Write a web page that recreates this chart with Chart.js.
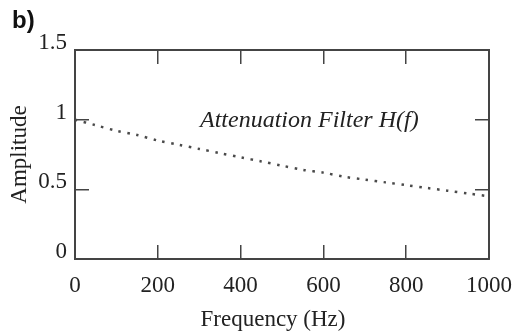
<!DOCTYPE html>
<html>
<head>
<meta charset="utf-8">
<script src="https://cdn.jsdelivr.net/npm/chart.js@4"></script>
<style>
  html, body { margin: 0; padding: 0; background: #fff; }
  #wrap { width: 516px; height: 332px; }
</style>
</head>
<body>
<div id="wrap"><canvas id="filter" width="516" height="332"></canvas></div>
<script>
// frequency (Hz) and amplitude
var freqs = [0, 50, 100, 150, 200, 250, 300, 350, 400, 450, 500, 550, 600, 650, 700, 750, 800, 850, 900, 950, 1000];
var amps = [1.00, 0.96, 0.92, 0.89, 0.85, 0.82, 0.79, 0.76, 0.73, 0.70, 0.67, 0.64, 0.62, 0.59, 0.57, 0.55, 0.53, 0.51, 0.49, 0.47, 0.45];
var xTicks = [0, 200, 400, 600, 800, 1000];
var yTicks = [0, 0.5, 1, 1.5];
var panelLabel = 'b)';
var curveLabel = 'Attenuation Filter H(f)';
var xTitle = 'Frequency (Hz)';

var serif = "'Liberation Serif', 'Times New Roman', serif";
var axisColor = '#444';
var textColor = '#222';

var points = freqs.map(function (f, i) { return { x: f, y: amps[i] }; });

// text that sits on the canvas, not on an axis
var labelsPlugin = {
    id: 'labels',
    afterDraw: function (chart) {
        var ctx = chart.ctx;
        ctx.save();
        ctx.fillStyle = '#111';
        ctx.font = "bold 24px 'Liberation Sans', Arial, sans-serif";
        ctx.textBaseline = 'alphabetic';
        ctx.fillText(panelLabel, 12, 28);

        ctx.fillStyle = textColor;
        ctx.font = "italic 24px " + serif;
        ctx.fillText(curveLabel, 200, 127);

        // x title sits a bit left of the plot centre in the original
        ctx.font = "23px " + serif;
        ctx.textAlign = 'center';
        ctx.textBaseline = 'middle';
        ctx.fillText(xTitle, 273, 320);
        ctx.restore();
    }
};

function axis(pos, isX, showLabels, size) {
    return {
        type: 'linear',
        position: pos,
        min: isX ? xTicks[0] : yTicks[0],
        max: isX ? xTicks[xTicks.length - 1] : yTicks[yTicks.length - 1],
        afterBuildTicks: function (scale) {
            scale.ticks = (isX ? xTicks : yTicks).map(function (v) { return { value: v }; });
        },
        afterFit: function (scale) {
            if (isX) scale.height = size; else scale.width = size;
            // labels may hang over the edges, keep the plot box fixed
            scale.paddingLeft = scale.paddingRight = 0;
            scale.paddingTop = scale.paddingBottom = 0;
        },
        border: { display: true, color: axisColor, width: 2 },
        grid: {
            drawOnChartArea: false,
            drawTicks: true,
            tickLength: -14,   // inward ticks
            color: axisColor,
            lineWidth: 1.5
        },
        ticks: {
            display: showLabels,
            color: textColor,
            font: { family: serif, size: 23 },
            padding: isX ? 27 : 22,
            labelOffset: isX ? 0 : -7,
            maxRotation: 0,
            callback: function (v) { return String(v); }
        }
    };
}

var xAxis = axis('bottom', true, true, 73);
var yAxis = axis('left', false, true, 75);
yAxis.title = {
    display: true,
    text: 'Amplitude',
    color: textColor,
    font: { family: serif, size: 23, lineHeight: 1.2 },
    padding: { top: 6, bottom: 0 }
};

var ctx = document.getElementById('filter').getContext('2d');
var chart = new Chart(ctx, {
    type: 'line',
    data: {
        datasets: [{
            label: curveLabel,
            data: points,
            borderColor: '#4a4a4a',
            borderWidth: 2.5,
            borderDash: [2.5, 6.5],
            borderCapStyle: 'butt',
            pointRadius: 0,
            fill: false,
            tension: 0.3
        }]
    },
    options: {
        responsive: false,
        animation: false,
        devicePixelRatio: 1,
        layout: { padding: 0 },
        plugins: {
            legend: { display: false },
            tooltip: { enabled: false },
            title: { display: false }
        },
        scales: {
            x: xAxis,
            y: yAxis,
            x2: axis('top', true, false, 50),
            y2: axis('right', false, false, 27)
        }
    },
    plugins: [labelsPlugin]
});
</script>
</body>
</html>
